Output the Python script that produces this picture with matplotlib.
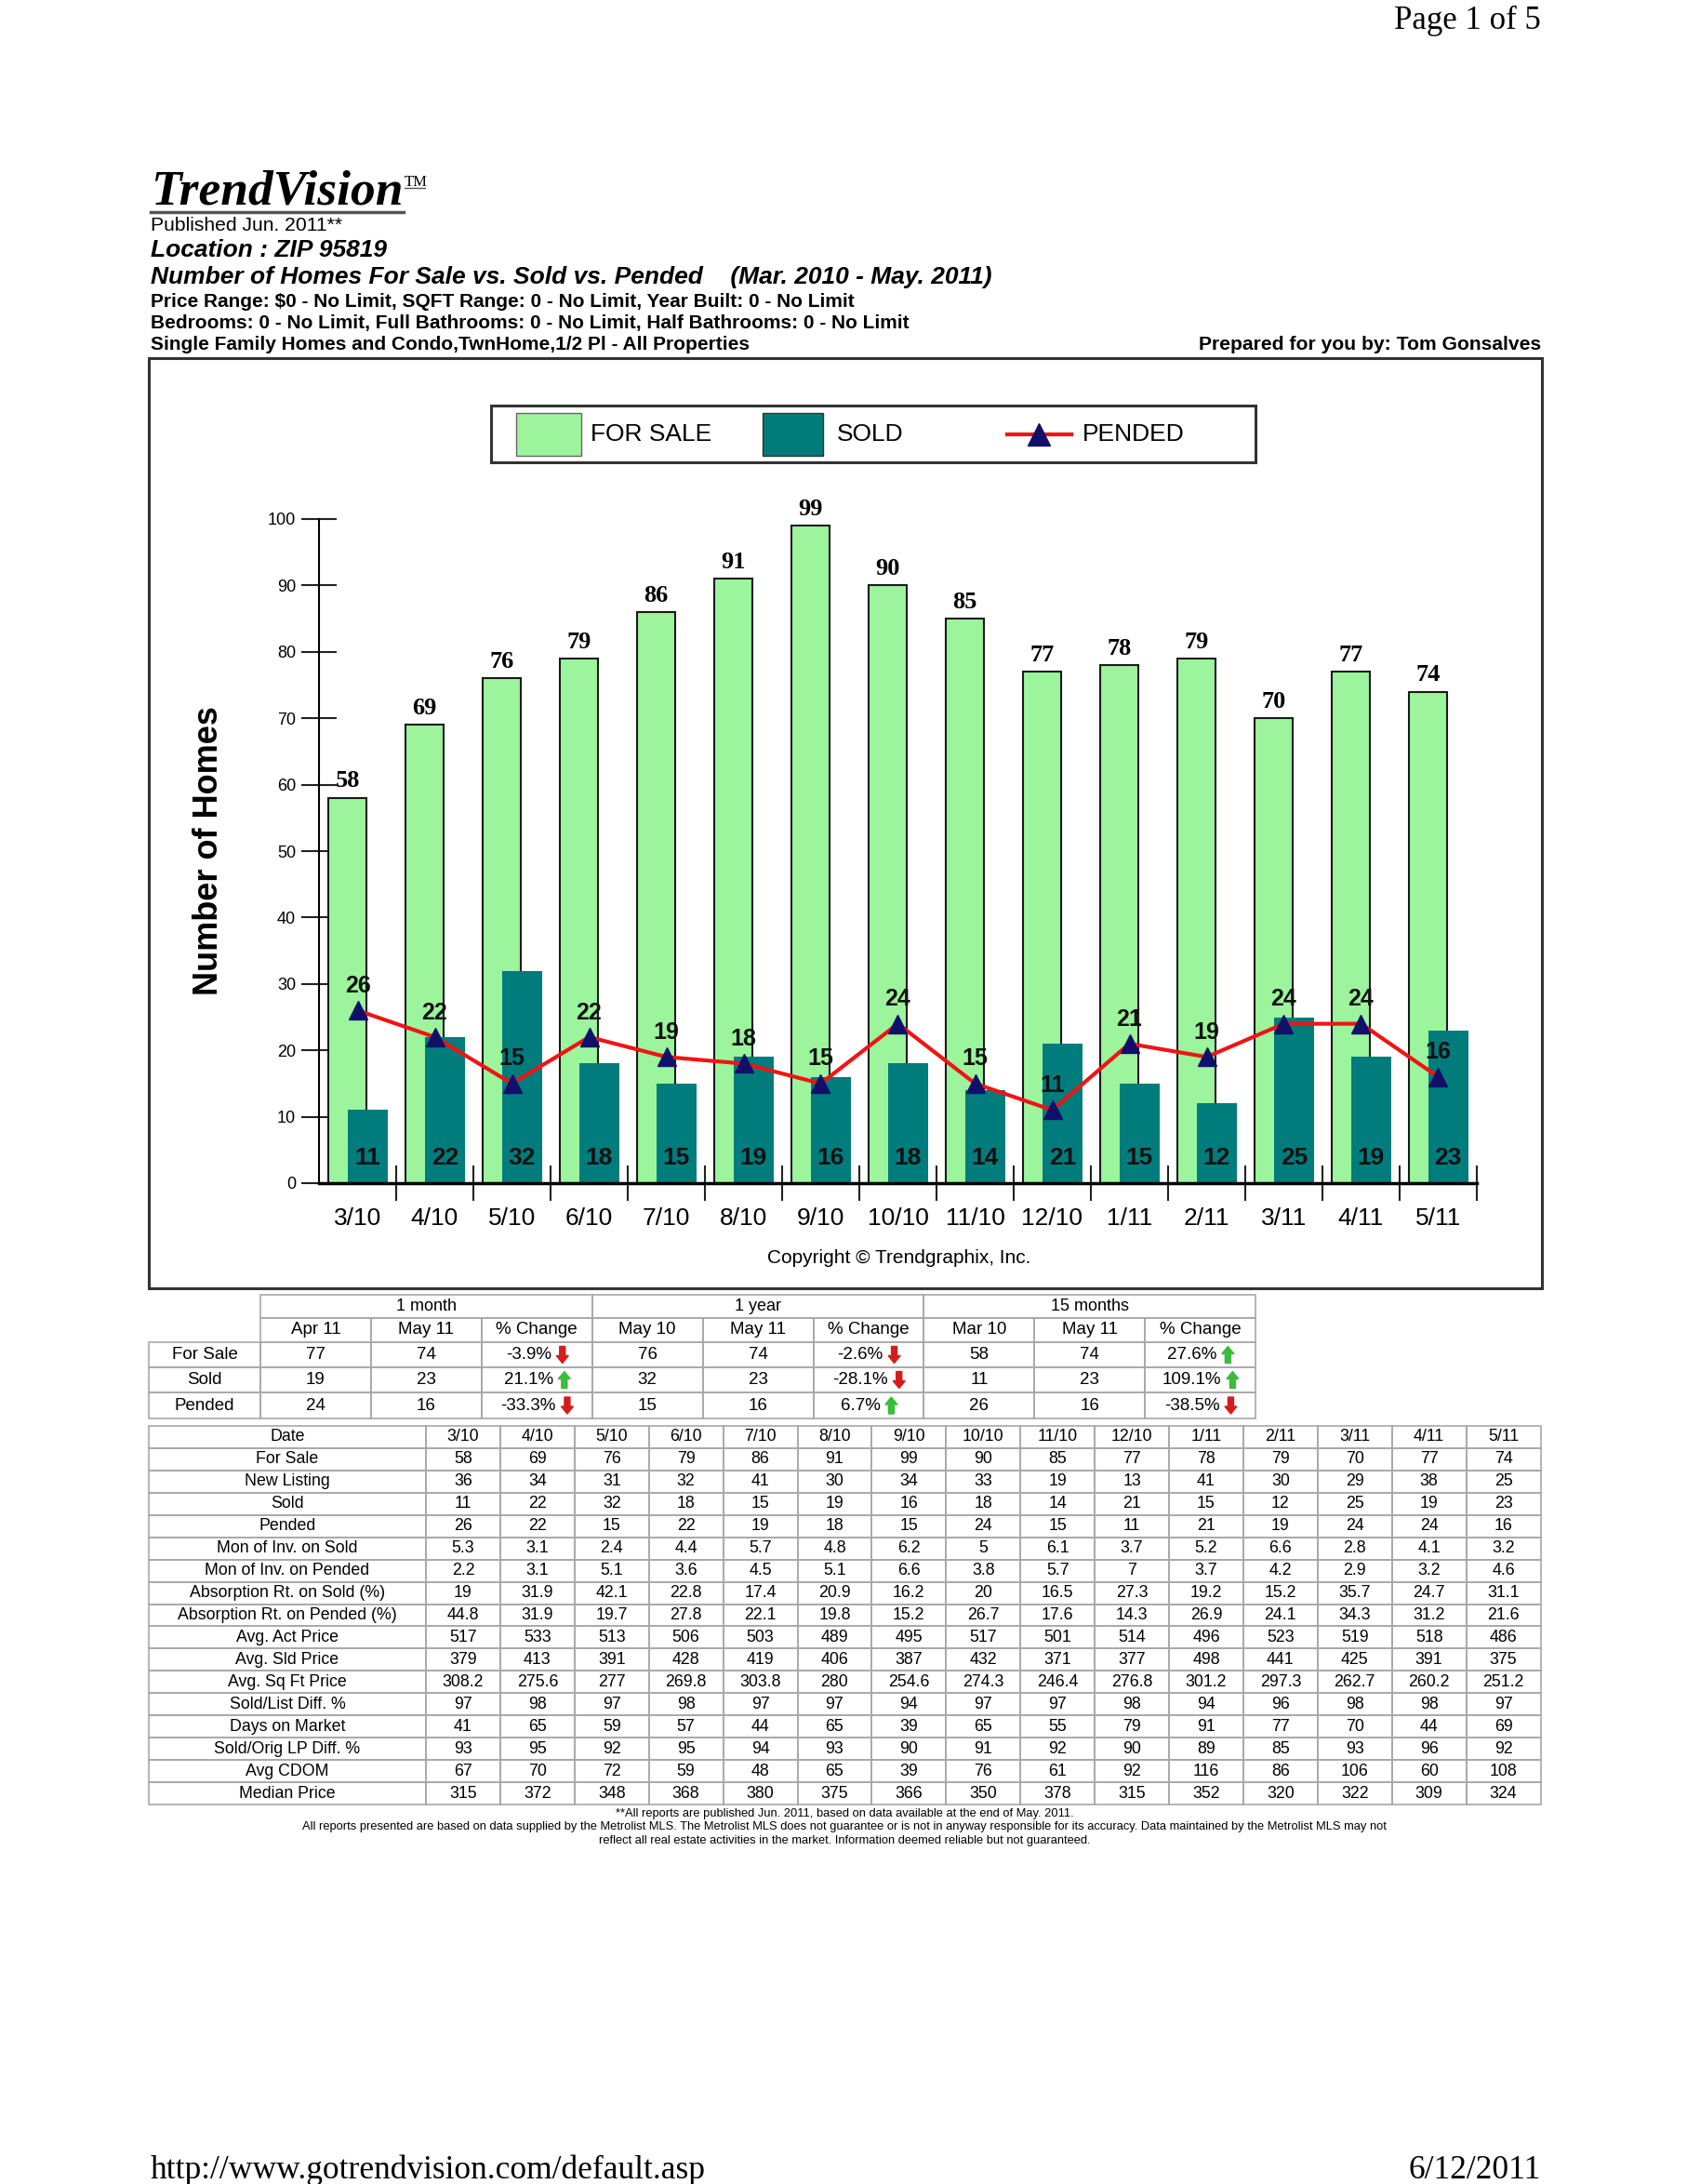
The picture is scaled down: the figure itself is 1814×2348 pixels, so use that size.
import matplotlib
matplotlib.use('Agg')
import matplotlib.pyplot as plt
from matplotlib.patches import Rectangle, FancyArrow
import numpy as np

plt.rcParams['font.family'] = ['Liberation Sans', 'DejaVu Sans']

# chart data
months = ['3/10', '4/10', '5/10', '6/10', '7/10', '8/10', '9/10', '10/10',
          '11/10', '12/10', '1/11', '2/11', '3/11', '4/11', '5/11']
for_sale = [58, 69, 76, 79, 86, 91, 99, 90, 85, 77, 78, 79, 70, 77, 74]
sold = [11, 22, 32, 18, 15, 19, 16, 18, 14, 21, 15, 12, 25, 19, 23]
pended = [26, 22, 15, 22, 19, 18, 15, 24, 15, 11, 21, 19, 24, 24, 16]

# monthly detail table
new_listing = [36, 34, 31, 32, 41, 30, 34, 33, 19, 13, 41, 30, 29, 38, 25]
moi_sold = [5.3, 3.1, 2.4, 4.4, 5.7, 4.8, 6.2, 5, 6.1, 3.7, 5.2, 6.6, 2.8, 4.1, 3.2]
moi_pended = [2.2, 3.1, 5.1, 3.6, 4.5, 5.1, 6.6, 3.8, 5.7, 7, 3.7, 4.2, 2.9, 3.2, 4.6]
abs_sold = [19, 31.9, 42.1, 22.8, 17.4, 20.9, 16.2, 20, 16.5, 27.3, 19.2, 15.2, 35.7, 24.7, 31.1]
abs_pended = [44.8, 31.9, 19.7, 27.8, 22.1, 19.8, 15.2, 26.7, 17.6, 14.3, 26.9, 24.1, 34.3, 31.2, 21.6]
avg_act_price = [517, 533, 513, 506, 503, 489, 495, 517, 501, 514, 496, 523, 519, 518, 486]
avg_sld_price = [379, 413, 391, 428, 419, 406, 387, 432, 371, 377, 498, 441, 425, 391, 375]
avg_sqft_price = [308.2, 275.6, 277, 269.8, 303.8, 280, 254.6, 274.3, 246.4, 276.8, 301.2, 297.3, 262.7, 260.2, 251.2]
sold_list_diff = [97, 98, 97, 98, 97, 97, 94, 97, 97, 98, 94, 96, 98, 98, 97]
days_on_market = [41, 65, 59, 57, 44, 65, 39, 65, 55, 79, 91, 77, 70, 44, 69]
sold_orig_diff = [93, 95, 92, 95, 94, 93, 90, 91, 92, 90, 89, 85, 93, 96, 92]
avg_cdom = [67, 70, 72, 59, 48, 65, 39, 76, 61, 92, 116, 86, 106, 60, 108]
median_price = [315, 372, 348, 368, 380, 375, 366, 350, 378, 315, 352, 320, 322, 309, 324]

detail_labels = ['For Sale', 'New Listing', 'Sold', 'Pended', 'Mon of Inv. on Sold',
                 'Mon of Inv. on Pended', 'Absorption Rt. on Sold (%)',
                 'Absorption Rt. on Pended (%)', 'Avg. Act Price', 'Avg. Sld Price',
                 'Avg. Sq Ft Price', 'Sold/List Diff. %', 'Days on Market',
                 'Sold/Orig LP Diff. %', 'Avg CDOM', 'Median Price']
detail_rows = [for_sale, new_listing, sold, pended, moi_sold, moi_pended, abs_sold,
               abs_pended, avg_act_price, avg_sld_price, avg_sqft_price, sold_list_diff,
               days_on_market, sold_orig_diff, avg_cdom, median_price]

# summary table
summary_groups = ['1 month', '1 year', '15 months']
summary_cols = ['Apr 11', 'May 11', '% Change', 'May 10', 'May 11', '% Change',
                'Mar 10', 'May 11', '% Change']
summary_labels = ['For Sale', 'Sold', 'Pended']
summary_values = [[77, 74, 76, 74, 58, 74],
                  [19, 23, 32, 23, 11, 23],
                  [24, 16, 15, 16, 26, 16]]
summary_change = [[-3.9, -2.6, 27.6],
                  [21.1, -28.1, 109.1],
                  [-33.3, 6.7, -38.5]]

GREEN = '#9cf59c'
TEAL = '#007c7c'
RED = '#f01414'
NAVY = '#10106a'
GRID = '#a8a8a8'

W, H = 1814, 2348
fig = plt.figure(figsize=(W / 100, H / 100), dpi=100)
page = fig.add_axes([0, 0, 1, 1])
page.set_xlim(0, W)
page.set_ylim(H, 0)
page.axis('off')
renderer = fig.canvas.get_renderer()

# ---- page header ----
page.text(1657, 22, 'Page 1 of 5', ha='right', va='center', fontsize=25,
          family='Liberation Serif')
tv = page.text(162, 220, 'TrendVision', ha='left', va='baseline', fontsize=38.5,
               family='Liberation Serif', fontweight='bold', fontstyle='italic')
tv_w = tv.get_window_extent(renderer).width
page.plot([162, 162 + tv_w], [228, 228], color='#555555', lw=2.5)
page.text(163 + tv_w, 200, 'TM', ha='left', va='baseline', fontsize=12,
          family='Liberation Serif')
page.plot([163 + tv_w, 163 + tv_w + 22], [202, 202], color='#555555', lw=1)

page.text(162, 242, 'Published Jun. 2011**', va='center', fontsize=15.2)
page.text(162, 269, 'Location : ZIP 95819', va='center', fontsize=19,
          fontweight='bold', fontstyle='italic')
page.text(162, 298, 'Number of Homes For Sale vs. Sold vs. Pended    (Mar. 2010 - May. 2011)',
          va='center', fontsize=19, fontweight='bold', fontstyle='italic')
page.text(162, 324, 'Price Range: $0 - No Limit, SQFT Range: 0 - No Limit, Year Built: 0 - No Limit',
          va='center', fontsize=15, fontweight='bold')
page.text(162, 347, 'Bedrooms: 0 - No Limit, Full Bathrooms: 0 - No Limit, Half Bathrooms: 0 - No Limit',
          va='center', fontsize=15, fontweight='bold')
page.text(162, 371, 'Single Family Homes and Condo,TwnHome,1/2 Pl - All Properties',
          va='center', fontsize=15, fontweight='bold')
page.text(1657, 371, 'Prepared for you by: Tom Gonsalves', ha='right', va='center',
          fontsize=15.2, fontweight='bold')

# chart frame
page.add_patch(Rectangle((160, 385), 1498, 1000, fill=False, ec='#333333', lw=2.2))

# legend
page.add_patch(Rectangle((528, 436), 822, 61, fill=False, ec='#333333', lw=2.2))
page.add_patch(Rectangle((555, 444), 70, 46, fc=GREEN, ec='#666666', lw=1))
page.text(635, 467, 'FOR SALE', va='center', fontsize=19)
page.add_patch(Rectangle((820, 444), 65, 46, fc=TEAL, ec='#333333', lw=1))
page.text(900, 467, 'SOLD', va='center', fontsize=19)
page.plot([1083, 1152], [467, 467], color=RED, lw=3)
page.plot([1117], [467], marker='^', ms=17, color=NAVY, ls='none')
page.text(1164, 467, 'PENDED', va='center', fontsize=19)

page.text(225, 915, 'Number of Homes', rotation=90, ha='center', va='center',
          fontsize=26, fontweight='bold')
page.text(967, 1352, 'Copyright \u00a9 Trendgraphix, Inc.', ha='center', va='center',
          fontsize=15)

# ---- chart ----
ax = fig.add_axes([343 / W, 1 - 1272 / H, 1245 / W, 714 / H])
ax.patch.set_alpha(0)
x = np.arange(len(months))
ax.bar(x - 0.13, for_sale, 0.5, color=GREEN, edgecolor='#1a1a1a', linewidth=1.5, zorder=2)
ax.bar(x + 0.13, sold, 0.52, color=TEAL, zorder=3)
ax.plot(x, pended, color=RED, lw=3, zorder=4)
ax.plot(x, pended, ls='none', marker='^', ms=15, color=NAVY, zorder=5)

for i in range(len(months)):
    ax.text(x[i] - 0.13, for_sale[i] + 0.9, str(for_sale[i]), ha='center', va='bottom',
            fontsize=19, fontweight='bold', family='Liberation Serif', zorder=6)
    ax.text(x[i] + 0.13, 3.8, str(sold[i]), ha='center', va='center',
            fontsize=19, fontweight='bold', color='#111111', zorder=6)
    ax.text(x[i], pended[i] + 3.7, str(pended[i]), ha='center', va='center',
            fontsize=18, fontweight='bold', color='#111111', zorder=6)

ax.set_xlim(-0.5, len(months) - 0.5)
ax.set_ylim(0, 100)
ax.set_yticks(range(0, 101, 10))
ax.tick_params(axis='y', direction='inout', length=28, width=1.5, pad=4,
               labelsize=13, color='#222222')
ax.set_xticks(x)
ax.set_xticklabels(months, fontsize=19)
ax.tick_params(axis='x', which='major', length=0, pad=19)
ax.set_xticks(np.arange(0.5, len(months)), minor=True)
ax.tick_params(axis='x', which='minor', direction='inout', length=27, width=1.5,
               color='#222222')
for s in ['top', 'right']:
    ax.spines[s].set_visible(False)
ax.spines['left'].set_linewidth(1.5)
ax.spines['bottom'].set_linewidth(2.5)
ax.spines['bottom'].set_zorder(6)

# ---- summary table ----
s_left, s_lab_w, s_col_w = 160, 120, 118.9
s_rows = [1392, 1417, 1443, 1470, 1497, 1525]
s_x0 = s_left + s_lab_w


def cell(x0, y0, w, h):
    page.add_patch(Rectangle((x0, y0), w, h, fill=False, ec=GRID, lw=1.2))


for g, name in enumerate(summary_groups):
    gx = s_x0 + 3 * g * s_col_w
    cell(gx, s_rows[0], 3 * s_col_w, s_rows[1] - s_rows[0])
    page.text(gx + 1.5 * s_col_w, (s_rows[0] + s_rows[1]) / 2, name, ha='center',
              va='center', fontsize=13)
for c, name in enumerate(summary_cols):
    cx = s_x0 + c * s_col_w
    cell(cx, s_rows[1], s_col_w, s_rows[2] - s_rows[1])
    page.text(cx + s_col_w / 2, (s_rows[1] + s_rows[2]) / 2, name, ha='center',
              va='center', fontsize=13.5)

for r, lab in enumerate(summary_labels):
    y0, y1 = s_rows[r + 2], s_rows[r + 3]
    yc = (y0 + y1) / 2
    cell(s_left, y0, s_lab_w, y1 - y0)
    page.text(s_left + s_lab_w / 2, yc, lab, ha='center', va='center', fontsize=13.5)
    for g in range(3):
        for k in range(2):
            c = 3 * g + k
            cx = s_x0 + c * s_col_w
            cell(cx, y0, s_col_w, y1 - y0)
            page.text(cx + s_col_w / 2, yc, str(summary_values[r][2 * g + k]),
                      ha='center', va='center', fontsize=13.5)
        c = 3 * g + 2
        cx = s_x0 + c * s_col_w
        cell(cx, y0, s_col_w, y1 - y0)
        pct = summary_change[r][g]
        t = page.text(0, yc, f'{pct:.1f}%', ha='left', va='center', fontsize=13.5)
        tw = t.get_window_extent(renderer).width
        start = cx + s_col_w / 2 - (tw + 18) / 2
        t.set_x(start)
        ax_x = start + tw + 12
        if pct < 0:
            page.add_patch(FancyArrow(ax_x, yc - 9, 0, 18, width=6, head_width=13,
                                      head_length=8, length_includes_head=True,
                                      color='#d41c1c'))
        else:
            page.add_patch(FancyArrow(ax_x, yc + 9, 0, -18, width=6, head_width=13,
                                      head_length=8, length_includes_head=True,
                                      color='#3cbc3c'))

# ---- detail table ----
b_left, b_lab_w, b_col_w = 160, 298, 79.9
b_top, b_row_h = 1533, 23.94
b_x0 = b_left + b_lab_w

all_labels = ['Date'] + detail_labels
for r in range(len(all_labels)):
    y0 = b_top + r * b_row_h
    yc = y0 + b_row_h / 2
    cell(b_left, y0, b_lab_w, b_row_h)
    page.text(b_left + b_lab_w / 2, yc, all_labels[r], ha='center', va='center', fontsize=12.8)
    for c in range(len(months)):
        cx = b_x0 + c * b_col_w
        cell(cx, y0, b_col_w, b_row_h)
        if r == 0:
            txt = months[c]
        else:
            txt = f'{detail_rows[r - 1][c]:g}'
        page.text(cx + b_col_w / 2, yc, txt, ha='center', va='center', fontsize=12.8)

# ---- footnotes ----
notes = ['**All reports are published Jun. 2011, based on data available at the end of May. 2011.',
         'All reports presented are based on data supplied by the Metrolist MLS. The Metrolist MLS does not '
         'guarantee or is not in anyway responsible for its accuracy. Data maintained by the Metrolist MLS may not',
         'reflect all real estate activities in the market. Information deemed reliable but not guaranteed.']
for i, n in enumerate(notes):
    page.text(908, 1950 + 14.5 * i, n, ha='center', va='center', fontsize=9.3)

page.text(162, 2333, 'http://www.gotrendvision.com/default.asp', ha='left', va='center',
          fontsize=25.5, family='Liberation Serif')
page.text(1657, 2333, '6/12/2011', ha='right', va='center', fontsize=25.5,
          family='Liberation Serif')

fig.savefig('out.png', dpi=100, facecolor='white')
